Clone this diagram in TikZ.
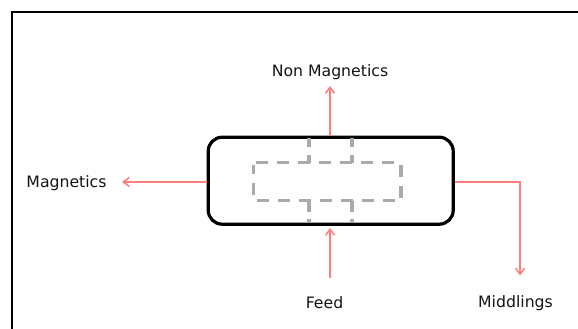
\documentclass[tikz,border=0pt]{standalone}
\usepackage{fontspec}
\setmainfont{DejaVu Sans}
\usetikzlibrary{arrows.meta}
\definecolor{flow}{RGB}{255,125,125}
\definecolor{inner}{RGB}{170,170,170}
\definecolor{ink}{RGB}{20,20,20}
\tikzset{
  flowline/.style={draw=flow,line width=1.7pt,-{Straight Barb[length=6pt,width=9pt,line width=1.5pt]}},
  innerline/.style={draw=inner,line width=3.4pt,dash pattern=on 12pt off 9pt},
  tag/.style={font=\fontsize{15.7}{18}\selectfont,text=ink,inner sep=0pt,anchor=center},
}
\begin{document}
\begin{tikzpicture}[x=1pt,y=-1pt]
\useasboundingbox (0,0) rectangle (578,329);
\fill[white] (0,0) rectangle (578,329);
\draw[black,line width=2pt,line cap=rect] (11.5,329) -- (11.5,12.5) -- (578,12.5);
% separator vessel
\node[draw=black,line width=3.2pt,rounded corners=14pt,minimum width=245pt,minimum height=87pt,inner sep=0pt,outer sep=0pt] (vessel) at (330.7,180.7) {};
% inner dashed outline
\draw[innerline] (256,162.5) -- (401,162.5) -- (401,200.5) -- (253.5,200.5) -- (253.5,165);
\draw[innerline,dash pattern=on 9pt off 8pt] (309,138) -- (309,162.5);
\draw[innerline,dash pattern=on 9pt off 8pt] (352,138) -- (352,162.5);
\draw[innerline,dash pattern=on 11pt off 7pt] (309,200.5) -- (309,223);
\draw[innerline,dash pattern=on 11pt off 7pt] (352,200.5) -- (352,223);
% labels
\node[tag] (nonmag) at (330,72) {Non Magnetics};
\node[tag] (mag) at (66.5,183.5) {Magnetics};
\node[tag] (feed) at (324.5,302.5) {Feed};
\node[tag] (mid) at (515.5,303) {Middlings};
% free ends
\coordinate (topend) at (330,86);
\coordinate (leftend) at (122,182);
\coordinate (rightbend) at (520,182);
\coordinate (rightend) at (520,275.5);
\coordinate (feedstart) at (330,278);
\coordinate (feedend) at (330,228);
\coordinate (rightstart) at (455,182);
\coordinate (leftstart) at (207,182);
\coordinate (topstart) at (330,136);
\draw[flowline] (topstart) -- (topend);
\draw[flowline] (leftstart) -- (leftend);
\draw[flowline] (rightstart) -- (rightbend) -- (rightend);
\draw[flowline] (feedstart) -- (feedend);
\end{tikzpicture}
\end{document}
